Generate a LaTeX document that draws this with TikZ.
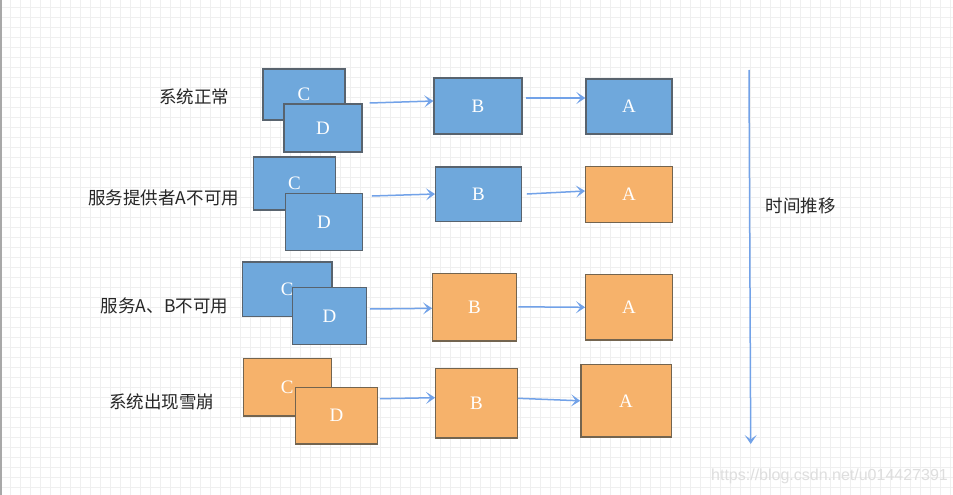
\documentclass[tikz,border=0pt]{standalone}
\usepackage{fontspec}
\setmainfont{Liberation Serif}
\newfontfamily\cjk{Noto Sans CJK SC}
\newfontfamily\wmfont{Liberation Sans}
\usetikzlibrary{arrows.meta,calc}
\definecolor{gridc}{HTML}{EFEFEF}
\definecolor{edgec}{HTML}{A8A8A8}
\definecolor{bluef}{HTML}{6FA8DC}
\definecolor{blued}{HTML}{58636E}
\definecolor{orangef}{HTML}{F6B26B}
\definecolor{oranged}{HTML}{73644F}
\definecolor{flowc}{HTML}{72A2E8}
\tikzset{
  box/.style={draw, line width=1.3pt, inner sep=0pt, text=white,
    font=\fontsize{19}{19}\selectfont},
  bluebox/.style={box, fill=bluef, draw=blued},
  orangebox/.style={box, fill=orangef, draw=oranged},
  flow/.style={draw=flowc, line width=1.5pt,
    -{Stealth[length=9pt,width=12pt,inset=4.5pt]}},
  lbl/.style={font=\cjk\fontsize{17.5}{18}\selectfont, inner sep=0pt, text=black!85},
}
\begin{document}
\begin{tikzpicture}[x=1pt,y=-1pt]
\useasboundingbox (0,0) rectangle (953,495);
\fill[white] (0,0) rectangle (953,495);
% grid
\foreach \i in {1,...,95} {\draw[gridc, line width=1.5pt] (10*\i+0.7,0) -- (10*\i+0.7,495);}
\foreach \i in {0,...,48} {\draw[gridc, line width=1.5pt] (0,10*\i+7.3) -- (953,10*\i+7.3);}
\draw[edgec, line width=1.5pt] (0.75,0) -- (0.75,495);

% labels
\node[lbl] (l1) at (194.2,97.3) {系统正常};
\node[lbl] (l2) at (163.7,198.3) {服务提供者A不可用};
\node[lbl] (l3) at (164.5,306) {服务A、B不可用};
\node[lbl] (l4) at (161.7,402.3) {系统出现雪崩};

% row 1
\node[bluebox, minimum width=82pt, minimum height=51pt] (C1) at (304,94.5) {C};
\node[bluebox, minimum width=78pt, minimum height=48pt] (D1) at (323,128) {D};
\node[bluebox, minimum width=88pt, minimum height=56pt] (B1) at (478,106) {B};
\node[bluebox, minimum width=86pt, minimum height=55pt] (A1) at (629,106.5) {A};
% row 2
\node[bluebox, minimum width=81.6pt, minimum height=53pt] (C2) at (294.5,183.5) {C};
\node[bluebox, minimum width=76.6pt, minimum height=56.6pt] (D2) at (324,222) {D};
\node[bluebox, minimum width=85.6pt, minimum height=54.3pt] (B2) at (478.5,194) {B};
\node[orangebox, minimum width=86.6pt, minimum height=55.6pt] (A2) at (629,194.5) {A};
% row 3
\node[bluebox, minimum width=89.3pt, minimum height=54.3pt] (C3) at (287.3,289) {C};
\node[bluebox, minimum width=73.6pt, minimum height=56.6pt] (D3) at (329.5,316) {D};
\node[orangebox, minimum width=83.6pt, minimum height=67.3pt] (B3) at (474.5,307.3) {B};
\node[orangebox, minimum width=86.6pt, minimum height=65.3pt] (A3) at (629,307.3) {A};
% row 4
\node[orangebox, minimum width=88pt, minimum height=57.3pt] (C4) at (287.3,387.3) {C};
\node[orangebox, minimum width=81.6pt, minimum height=56.7pt] (D4) at (336.5,415.7) {D};
\node[orangebox, minimum width=81.6pt, minimum height=69.3pt] (B4) at (476.5,403.3) {B};
\node[orangebox, minimum width=90.3pt, minimum height=72.3pt] (A4) at (626,400.8) {A};

% connectors
\draw[flow] ([xshift=7pt,yshift=25pt]D1.east) -- ([yshift=5pt]B1.west);
\draw[flow] ([xshift=3pt,yshift=8pt]B1.east) -- ([yshift=8.5pt]A1.west);
\draw[flow] ([xshift=9pt,yshift=26pt]D2.east) -- (B2.west);
\draw[flow] ([xshift=5pt]B2.east) -- ([yshift=3.5pt]A2.west);
\draw[flow] ([xshift=3pt,yshift=7pt]D3.east) -- ([yshift=-1pt]B3.west);
\draw[flow] ([xshift=1.5pt,yshift=0.5pt]B3.east) -- (A3.west);
\draw[flow] ([xshift=2pt,yshift=17pt]D4.east) -- ([yshift=5.6pt]B4.west);
\draw[flow] ([yshift=5pt]B4.east) -- (A4.west);

% timeline
\coordinate (t1) at (749,70);
\coordinate (t2) at (750.7,444);
\draw[flow] (t1) -- (t2);
\node[lbl] (tl) at (800.5,205.7) {时间推移};

% watermark
\node[font=\wmfont\fontsize{16}{16}\selectfont, text=black!13, inner sep=0pt] (wm) at (829.5,476.7) {https://blog.csdn.net/u014427391};
\end{tikzpicture}
\end{document}
